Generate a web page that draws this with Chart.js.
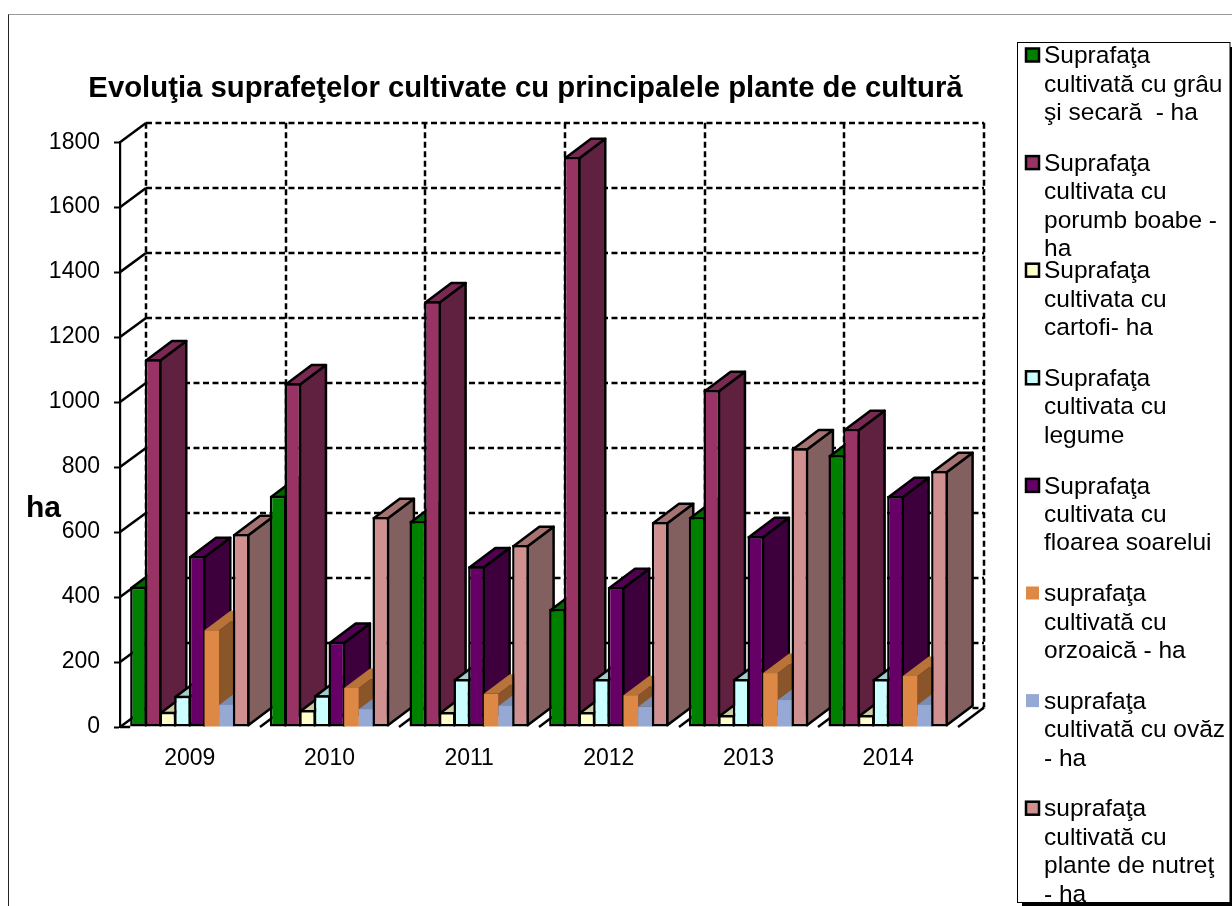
<!DOCTYPE html>
<html>
<head>
<meta charset="utf-8">
<script src="https://cdn.jsdelivr.net/npm/chart.js@4"></script>
<style>
  html, body { margin: 0; background: #fff; overflow: hidden; }
  #wrap { position: relative; width: 1232px; height: 906px; }
  #frame { position: absolute; left: 8px; top: 14px; right: 0; bottom: 0; border-top: 1px solid #999; border-left: 1px solid #222; }
  canvas { position: absolute; left: 0; top: 0; }
</style>
</head>
<body>
<div id="wrap">
  <div id="frame"></div>
  <canvas id="chart" width="1232" height="906"></canvas>
</div>
<script>
const years = ['2009', '2010', '2011', '2012', '2013', '2014'];

const grau = [432, 712, 634, 363, 646, 837];
const porumb = [1132, 1058, 1310, 1754, 1037, 917];
const cartofi = [47, 52, 46, 46, 37, 37];
const legume = [96, 98, 148, 148, 148, 148];
const floarea = [526, 262, 495, 431, 588, 711];
const orzoaica = [298, 120, 102, 98, 166, 157];
const ovaz = [68, 55, 65, 62, 83, 68];
const nutret = [594, 646, 560, 631, 858, 788];

const names = [
  ['Suprafaţa', 'cultivată cu grâu', 'şi secară  - ha'],
  ['Suprafaţa', 'cultivata cu', 'porumb boabe -', 'ha'],
  ['Suprafaţa', 'cultivata cu', 'cartofi- ha'],
  ['Suprafaţa', 'cultivata cu', 'legume'],
  ['Suprafaţa', 'cultivata cu', 'floarea soarelui'],
  ['suprafaţa', 'cultivată cu', 'orzoaică - ha'],
  ['suprafaţa', 'cultivată cu ovăz', '- ha'],
  ['suprafaţa', 'cultivată cu', 'plante de nutreţ', '- ha']
];
const values = [grau, porumb, cartofi, legume, floarea, orzoaica, ovaz, nutret];
const colors = ['#008000', '#993366', '#FFFFCC', '#CCFFFF', '#660066', '#DD8844', '#95A9D4', '#D09090'];
const sideColors = ['#004d00', '#602040', '#a3a382', '#82a3a3', '#3d003d', '#8a5528', '#6c7d9e', '#836060'];
const topColors = ['#006600', '#7a2a52', '#cccca3', '#a3cccc', '#520052', '#b87338', '#7a8cb0', '#a67373'];
const outlined = [true, true, true, true, true, false, false, true];

const FONT = '"Liberation Sans", Arial, sans-serif';
const DX = 26;   // depth of the fake 3D
const DY = -19.5;

function line(ctx, x1, y1, x2, y2) {
  ctx.beginPath();
  ctx.moveTo(x1, y1);
  ctx.lineTo(x2, y2);
  ctx.stroke();
}

function face(ctx, pts, fill, stroke) {
  ctx.beginPath();
  pts.forEach((p, i) => i ? ctx.lineTo(p[0], p[1]) : ctx.moveTo(p[0], p[1]));
  ctx.closePath();
  ctx.fillStyle = fill;
  ctx.fill();
  if (stroke) ctx.stroke();
}

// back wall, side wall and floor
const wallsPlugin = {
  id: 'walls',
  beforeDatasetsDraw(chart) {
    const ctx = chart.ctx;
    const y = chart.scales.y;
    const x = chart.scales.x;
    const area = chart.chartArea;
    const catW = x.width / years.length;
    ctx.save();
    ctx.strokeStyle = '#000';
    ctx.lineWidth = 2.5;
    y.ticks.forEach(t => {
      const py = y.getPixelForValue(t.value);
      const back = Math.round(py + DY);
      ctx.setLineDash([]);
      line(ctx, area.left, py, area.left + DX, back);
      ctx.setLineDash([6, 3.5]);
      line(ctx, area.left + DX, back, area.right + DX, back);
    });
    for (let i = 0; i <= years.length; i++) {
      const px = Math.round(area.left + catW * i + DX);
      ctx.setLineDash([6, 3.5]);
      line(ctx, px, area.top + DY, px, area.bottom + DY);
      if (i > 0) {
        ctx.setLineDash([]);
        line(ctx, px - DX, area.bottom, px, area.bottom + DY);
      }
    }
    ctx.setLineDash([]);
    const first = chart.getDatasetMeta(0).data[0];
    line(ctx, area.left, area.bottom, first.x - first.width / 2, area.bottom);
    ctx.restore();
  }
};

// bars have to be painted year by year, left to right, so each one covers the depth of the previous
const bars3dPlugin = {
  id: 'bars3d',
  beforeDatasetsDraw(chart) {
    const ctx = chart.ctx;
    ctx.save();
    ctx.lineWidth = 2.5;
    ctx.lineJoin = 'round';
    ctx.strokeStyle = '#000';
    years.forEach((yr, c) => {
      values.forEach((v, s) => {
        const el = chart.getDatasetMeta(s).data[c];
        const inset = outlined[s] ? 1.25 : 0;
        const l = el.x - el.width / 2 + inset;
        const r = el.x + el.width / 2 - inset;
        const t = el.y + inset;
        const b = el.base - inset;
        face(ctx, [[r, t], [r + DX, t + DY], [r + DX, b + DY], [r, b]], sideColors[s], outlined[s]);
        face(ctx, [[l, t], [l + DX, t + DY], [r + DX, t + DY], [r, t]], topColors[s], outlined[s]);
        el.draw(ctx);
      });
    });
    ctx.restore();
    return false;
  }
};

// axis name and the boxed legend on the right
const sidePlugin = {
  id: 'side',
  afterLayout(chart) {
    chart.titleBlock.left += 46.5;
    chart.titleBlock.right += 46.5;
  },
  afterDraw(chart) {
    const ctx = chart.ctx;
    ctx.save();
    ctx.textBaseline = 'middle';
    ctx.fillStyle = '#000';
    ctx.font = 'bold 30px ' + FONT;
    ctx.fillText('ha', 26, 509);

    ctx.fillStyle = '#000';
    ctx.fillRect(1022, 47, 210, 859);
    ctx.fillStyle = '#fff';
    ctx.strokeStyle = '#000';
    ctx.lineWidth = 1;
    ctx.fillRect(1017.5, 42.5, 212.5, 860);
    ctx.strokeRect(1017.5, 42.5, 212.5, 860);

    ctx.font = '24.5px ' + FONT;
    names.forEach((lines, s) => {
      const cy = 55.5 + s * 107.6;
      ctx.fillStyle = colors[s];
      ctx.fillRect(1026, cy - 7, 13, 13);
      if (outlined[s]) {
        ctx.lineWidth = 2.5;
        ctx.strokeRect(1026, cy - 7, 13, 13);
      }
      ctx.fillStyle = '#000';
      lines.forEach((txt, i) => ctx.fillText(txt, 1044, cy + 1 + i * 28.4));
    });
    ctx.restore();
  }
};

new Chart(document.getElementById('chart'), {
  type: 'bar',
  data: {
    labels: years,
    datasets: values.map((v, s) => ({
      label: names[s].join(' '),
      data: v,
      backgroundColor: colors[s],
      borderColor: '#000',
      borderWidth: outlined[s] ? 2.5 : 0,
      borderSkipped: false,
      categoryPercentage: 0.84,
      barPercentage: outlined[s] ? 1.14 : 1
    }))
  },
  options: {
    responsive: false,
    animation: false,
    layout: { padding: { left: 0, right: 274, top: 0, bottom: 0 } },
    plugins: {
      legend: { display: false },
      tooltip: { enabled: false },
      title: {
        display: true,
        text: 'Evoluţia suprafeţelor cultivate cu principalele plante de cultură',
        color: '#000',
        font: { family: FONT, size: 29.3, weight: 'bold' },
        padding: { top: 71, bottom: 36 }
      }
    },
    scales: {
      x: {
        grid: { display: false },
        border: { display: false },
        afterFit: s => { s.height = 179; },
        ticks: { color: '#000', font: { family: FONT, size: 23 }, padding: 10, maxRotation: 0 }
      },
      y: {
        min: 0,
        max: 1800,
        afterFit: s => { s.width = 120; },
        border: { color: '#000', width: 2.2 },
        grid: { drawOnChartArea: false, tickColor: '#000', tickWidth: 2, tickLength: 6 },
        ticks: { stepSize: 200, color: '#000', font: { family: FONT, size: 23 }, padding: 14, callback: v => String(v) }
      }
    }
  },
  plugins: [wallsPlugin, bars3dPlugin, sidePlugin]
});
</script>
</body>
</html>
